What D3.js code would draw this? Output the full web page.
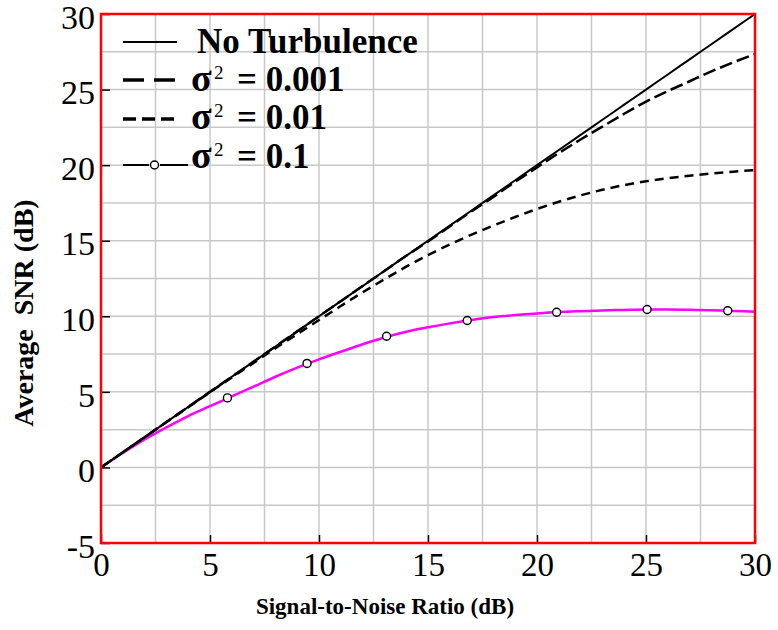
<!DOCTYPE html>
<html>
<head>
<meta charset="utf-8">
<script src="https://cdn.jsdelivr.net/npm/d3@7"></script>
<style>
  html, body { margin: 0; padding: 0; background: #ffffff; }
  svg { display: block; }
  text { font-family: "Liberation Serif", "Times New Roman", serif; }
</style>
</head>
<body>
<svg id="chart" width="778" height="630"></svg>
<script>
// Signal-to-noise ratio (dB), x axis
const snrDb = [0,1,2,3,4,5,6,7,8,9,10,11,12,13,14,15,16,17,18,19,20,21,22,23,24,25,26,27,28,29,30];

// Average SNR (dB) for each turbulence strength
const noTurbulence = [0,1,2,3,4,5,6,7,8,9,10,11,12,13,14,15,16,17,18,19,20,21,22,23,24,25,26,27,28,29,30];
const sigma2_0001  = [0,1,2,3,4,5,6,7,8,9,10,11,12,13,14,14.95,15.95,16.95,17.9,18.9,19.85,20.8,21.7,22.55,23.4,24.2,24.9,25.55,26.2,26.8,27.35];
const sigma2_001   = [0,1,2,3,3.98,4.97,5.95,6.92,7.88,8.82,9.75,10.68,11.58,12.45,13.28,14.05,14.75,15.4,16.0,16.57,17.1,17.58,18.0,18.37,18.68,18.93,19.13,19.3,19.45,19.57,19.67];
const sigma2_01    = [0,0.95,1.85,2.65,3.4,4.05,4.7,5.35,6.0,6.6,7.15,7.65,8.15,8.6,8.98,9.27,9.53,9.76,9.95,10.08,10.19,10.28,10.34,10.39,10.42,10.45,10.45,10.43,10.4,10.35,10.3];

// Circle markers on the sigma^2 = 0.1 curve
const markerSnr = [5.8, 9.45, 13.1, 16.8, 20.9, 25.05, 28.75];
const markerAvg = [4.6, 6.88, 8.68, 9.72, 10.27, 10.45, 10.37];

// Axis ticks
const xTicks = [0,5,10,15,20,25,30];
const yTicks = [-5,0,5,10,15,20,25,30];

// Legend entries
const legendLabels = ["No Turbulence", "0.001", "0.01", "0.1"];

const serif = '"Liberation Serif", "Times New Roman", serif';
const svg = d3.select("#chart");
const plotL = 101, plotR = 755, plotT = 14, plotB = 543;

const x = d3.scaleLinear().domain([0, 30]).range([plotL, plotR]);
const y = d3.scaleLinear().domain([-5, 30]).range([plotB, plotT]);

svg.append("rect").attr("width", 778).attr("height", 630).attr("fill", "#ffffff");

// Grid every 2.5 dB
const grid = svg.append("g").attr("stroke", "#c8c8c8").attr("stroke-width", 1.5);
grid.selectAll("line.v").data(d3.range(2.5, 30, 2.5)).join("line")
  .attr("x1", d => x(d)).attr("x2", d => x(d)).attr("y1", plotT).attr("y2", plotB);
grid.selectAll("line.h").data(d3.range(-2.5, 30, 2.5)).join("line")
  .attr("x1", plotL).attr("x2", plotR).attr("y1", d => y(d)).attr("y2", d => y(d));

// Axes (ticks point inward), plain hyphen for negative labels
const plain = d => String(d);
const xAxis = svg.append("g").attr("transform", `translate(0,${plotB})`)
  .call(d3.axisBottom(x).tickValues(xTicks).tickFormat(plain).tickSizeInner(-8).tickSizeOuter(0).tickPadding(10));
const yAxis = svg.append("g").attr("transform", `translate(${plotL},0)`)
  .call(d3.axisLeft(y).tickValues(yTicks).tickFormat(plain).tickSizeInner(-9).tickSizeOuter(0).tickPadding(6));
[xAxis, yAxis].forEach(a => {
  a.attr("font-family", serif);
  a.select(".domain").remove();
  a.selectAll(".tick line").attr("stroke", "#000").attr("stroke-width", 1.5);
  a.selectAll(".tick text").attr("fill", "#000").attr("font-family", serif);
});
xAxis.selectAll(".tick text").attr("font-size", 33);
yAxis.selectAll(".tick text").attr("font-size", 34).attr("dy", "0.42em");

// Curves
const line = d3.line().x((d, i) => x(snrDb[i])).y(d => y(d)).curve(d3.curveMonotoneX);
svg.append("path").datum(sigma2_01).attr("d", line)
  .attr("fill", "none").attr("stroke", "#ff00ff").attr("stroke-width", 2.5);
svg.append("path").datum(sigma2_001).attr("d", line)
  .attr("fill", "none").attr("stroke", "#000").attr("stroke-width", 2.5).attr("stroke-dasharray", "9,6");
svg.append("path").datum(sigma2_0001).attr("d", line)
  .attr("fill", "none").attr("stroke", "#000").attr("stroke-width", 2.5).attr("stroke-dasharray", "13,5");
svg.append("path").datum(noTurbulence).attr("d", line)
  .attr("fill", "none").attr("stroke", "#000").attr("stroke-width", 2);

svg.append("g").selectAll("circle").data(markerSnr).join("circle")
  .attr("cx", d => x(d)).attr("cy", (d, i) => y(markerAvg[i])).attr("r", 4)
  .attr("fill", "#fff").attr("stroke", "#000").attr("stroke-width", 1.4);

// Plot frame
svg.append("rect").attr("x", plotL).attr("y", plotT).attr("width", plotR - plotL).attr("height", plotB - plotT)
  .attr("fill", "none").attr("stroke", "#ff0000").attr("stroke-width", 2.5);

// Axis titles
svg.append("text").attr("x", 385).attr("y", 614).attr("text-anchor", "middle").attr("font-family", serif)
  .attr("font-size", 23).attr("font-weight", "bold").text("Signal-to-Noise Ratio (dB)");
svg.append("text").attr("transform", "translate(33,313) rotate(-90)").attr("text-anchor", "middle").attr("font-family", serif)
  .attr("font-size", 28).attr("font-weight", "bold").style("white-space", "pre").text("Average  SNR (dB)");

// Legend
const lg = svg.append("g").attr("font-family", serif);
const rowY = [42, 80, 119, 165];
const baseY = [53, 91, 129, 168];
lg.append("line").attr("x1", 123).attr("x2", 177).attr("y1", rowY[0]).attr("y2", rowY[0])
  .attr("stroke", "#000").attr("stroke-width", 2);
lg.append("line").attr("x1", 123).attr("x2", 177).attr("y1", rowY[1]).attr("y2", rowY[1])
  .attr("stroke", "#000").attr("stroke-width", 3.5).attr("stroke-dasharray", "21,10");
lg.append("line").attr("x1", 123).attr("x2", 177).attr("y1", rowY[2]).attr("y2", rowY[2])
  .attr("stroke", "#000").attr("stroke-width", 3.5).attr("stroke-dasharray", "13,6");
lg.append("line").attr("x1", 123).attr("x2", 149).attr("y1", rowY[3]).attr("y2", rowY[3])
  .attr("stroke", "#000").attr("stroke-width", 2);
lg.append("line").attr("x1", 160).attr("x2", 188).attr("y1", rowY[3]).attr("y2", rowY[3])
  .attr("stroke", "#000").attr("stroke-width", 2);
lg.append("circle").attr("cx", 154.5).attr("cy", rowY[3]).attr("r", 4)
  .attr("fill", "#fff").attr("stroke", "#000").attr("stroke-width", 1.4);

lg.append("text").attr("x", 197).attr("y", baseY[0]).attr("font-size", 35).attr("font-weight", "bold")
  .text(legendLabels[0]);
for (let k = 1; k < 4; k++) {
  const t = lg.append("text").attr("x", 191).attr("y", baseY[k]).attr("font-size", 35).attr("font-weight", "bold");
  t.append("tspan").attr("font-size", 38).text("σ");
  t.append("tspan").attr("x", 214).attr("dy", -12).attr("font-size", 19).attr("font-weight", "normal").text("2");
  t.append("tspan").attr("x", 237).attr("dy", 12).style("white-space", "pre").text("= " + legendLabels[k]);
}
</script>
</body>
</html>
